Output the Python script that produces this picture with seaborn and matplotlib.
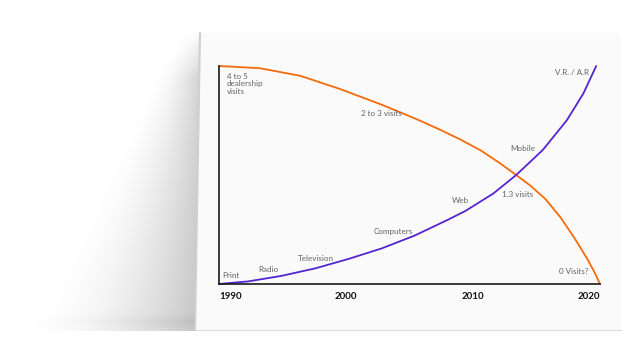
import numpy as np
import pandas as pd
import matplotlib
matplotlib.use("Agg")
import matplotlib.pyplot as plt
from matplotlib.patches import Polygon
import seaborn as sns

# ---------------- data ----------------
visits_years = [1990, 1993.2, 1996.4, 1999.5, 2002.7, 2004.3, 2005.8, 2007.4,
                2009.0, 2010.6, 2012.1, 2013.4, 2014.5, 2015.7, 2016.9,
                2018.0, 2019.0, 2019.6, 2020]
visits_values = [100, 99.0, 95.5, 89.5, 82.5, 78.7, 75.0, 70.8,
                 66.3, 61.3, 55.5, 50.0, 45.2, 39.0, 30.5,
                 21.0, 11.5, 5.0, 0]

tech_years = [1990, 1992.3, 1994.9, 1997.6, 2000.2, 2002.8, 2005.4,
              2008.0, 2009.4, 2011.6, 2013.4, 2015.5, 2017.4, 2018.7, 2019.7]
tech_values = [0, 1.2, 3.7, 7.2, 11.5, 16.3, 22.2,
               29.4, 33.5, 41.5, 50.0, 61.5, 75.2, 87.5, 100]

tick_years = [1990, 2000, 2010, 2020]
tick_labels = ["1990", "2000", "2010", "2020"]

label_texts = ["4 to 5\ndealership\nvisits", "2 to 3 visits", "V.R. / A.R", "Mobile",
               "1.3 visits", "Web", "Computers", "Television", "Radio", "Print",
               "0 Visits?"]
label_x = [1990.6, 2002.8, 2019.1, 2013.9, 2013.5, 2009.0, 2003.7, 1997.6,
           1993.9, 1990.9, 2017.9]
label_y = [96.8, 78.3, 97.1, 62.2, 41.1, 38.1, 24.2, 11.9, 6.7, 3.7, 5.6]
label_ha = ["left", "center", "right", "center", "center", "center", "center",
            "center", "center", "center", "center"]

df = pd.concat([
    pd.DataFrame({"year": visits_years, "value": visits_values, "series": "visits"}),
    pd.DataFrame({"year": tech_years, "value": tech_values, "series": "tech"}),
], ignore_index=True)

# ---------------- style ----------------
sns.set_theme(style="white")
plt.rcParams["font.family"] = ["Lato", "DejaVu Sans"]

W, H = 628, 344
fig = plt.figure(figsize=(W / 100, H / 100), dpi=100)
fig.patch.set_facecolor("white")

# background axes in pixel coordinates (card + shadow)
bg = fig.add_axes([0, 0, 1, 1])
bg.set_xlim(0, W)
bg.set_ylim(H, 0)
bg.axis("off")

yy, xx = np.mgrid[0:H, 0:W] + 0.5
card_top, card_bot = 33, 330
edge = 200 + (yy - card_top) / (card_bot - card_top) * (195 - 200)
d = edge - xx
t = np.clip((yy - card_top) / (card_bot - card_top), 0, 1)
width = 25 + t * 150
a = np.clip(1 - d / width, 0, 1) ** 1.8
a = a * np.clip((yy - 28) / 50, 0, 1) * (0.17 + 0.05 * t)
a[d < 0] = 0
a[yy > card_bot + 1] = 0
# faint floor shadow
floor = np.exp(-((yy - (card_bot - 8)) / 6.0) ** 2) * np.clip((xx - 20) / 175, 0, 1) * 0.04
floor[xx > 200] = 0
alpha = np.clip(a + floor, 0, 1)
img = np.zeros((H, W, 4))
img[..., 3] = alpha
bg.imshow(img, extent=(0, W, H, 0), zorder=0, interpolation="bilinear")

card = Polygon([(200, card_top), (621, card_top), (621, card_bot), (195, card_bot)],
               closed=True, facecolor="#fafafa", edgecolor="none", zorder=1)
bg.add_patch(card)
bg.plot([195, 621], [card_bot, card_bot], color="#dcdcdc", lw=0.8, zorder=2)
bg.plot([200, 195], [card_top, card_bot], color="#cfcfcf", lw=1.5, zorder=2)

# ---------------- main chart ----------------
ax = fig.add_axes([219 / W, 1 - 284 / H, (600 - 219) / W, (284 - 66) / H])
ax.patch.set_alpha(0)
sns.lineplot(data=df, x="year", y="value", hue="series", sort=False,
             palette={"visits": "#f56b0a", "tech": "#5524d0"},
             linewidth=1.3, legend=False, ax=ax, clip_on=False)
for ln in ax.lines:
    ln.set_solid_joinstyle("round")
ax.set_xlim(1990, 2020)
ax.set_ylim(0, 100)
ax.set_xlabel("")
ax.set_ylabel("")
ax.set_yticks([])
ax.set_xticks(tick_years)
ax.set_xticklabels(tick_labels, fontsize=7, fontweight="bold", color="#111111")
for lab, ha in zip(ax.get_xticklabels(), ["left", "center", "center", "right"]):
    lab.set_ha(ha)
ax.tick_params(axis="x", length=0, pad=6)
for s in ["top", "right"]:
    ax.spines[s].set_visible(False)
for s in ["left", "bottom"]:
    ax.spines[s].set_color("#1a1a1a")
    ax.spines[s].set_linewidth(1.2)

for txt, x, y, ha in zip(label_texts, label_x, label_y, label_ha):
    va = "top" if "\n" in txt else "center"
    ax.text(x, y, txt, ha=ha, va=va, fontsize=5.8, color="#626262",
            linespacing=1.05, zorder=5)

fig.savefig("out.png", dpi=100, facecolor="white")
